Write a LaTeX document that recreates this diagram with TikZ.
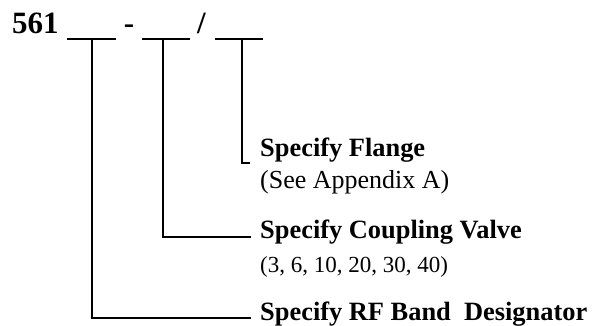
\documentclass[tikz,border=0pt]{standalone}
\usepackage{fontspec}
\setmainfont{Liberation Serif}
\begin{document}
\begin{tikzpicture}[x=1pt,y=-1pt,
  ln/.style={line width=1.8pt},
  code/.style={font=\fontsize{31}{33}\selectfont\bfseries, inner sep=0pt, anchor=base},
  ttl/.style={font=\fontsize{26.4}{28}\selectfont\bfseries, inner sep=0pt, anchor=base west},
  sub/.style={font=\fontsize{23}{26}\selectfont, inner sep=0pt, anchor=base west}]
\useasboundingbox (0,0) rectangle (598,325);
% header
\node[code, anchor=base west] (num) at (12,33) {561};
\node[code] (dash) at (129,33) {-};
\node[code] (slash) at (201.5,33) {/};
% blanks
\coordinate (b1l) at (67,39); \coordinate (b1r) at (116,39);
\coordinate (b2l) at (142,39); \coordinate (b2r) at (190,39);
\coordinate (b3l) at (215,39); \coordinate (b3r) at (263,39);
\draw[ln] (b1l) -- (b1r);
\draw[ln] (b2l) -- (b2r);
\draw[ln] (b3l) -- (b3r);
\coordinate (u1) at (92,39);
\coordinate (u2) at (163,39);
\coordinate (u3) at (242,39);
% labels
\node[ttl] (flange) at (260,156) {Specify Flange};
\node[sub, font=\fontsize{26}{28}\selectfont] (flangesub) at (260,188) {(See Appendix A)};
\node[ttl] (coupling) at (260,238) {Specify Coupling Valve};
\node[sub] (couplingsub) at (260,272) {(3, 6, 10, 20, 30, 40)};
\node[ttl] (band) at (260,320) {Specify RF Band\ \ Designator};
% connectors
\coordinate (e3) at (250,163);
\coordinate (e2) at (251,237);
\coordinate (e1) at (251,318);
\draw[ln] (u3) |- (e3);
\draw[ln] (u2) |- (e2);
\draw[ln] (u1) |- (e1);
\end{tikzpicture}
\end{document}
